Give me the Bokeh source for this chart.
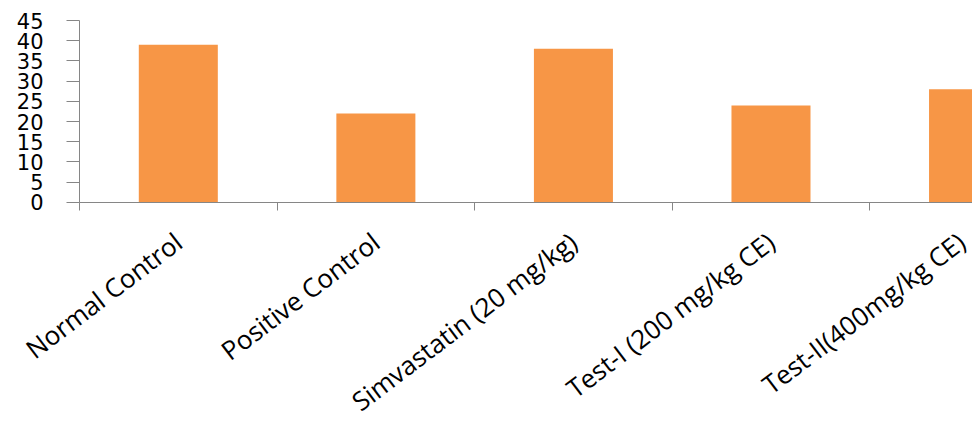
from bokeh.plotting import figure
from bokeh.models import Range1d, FixedTicker, ColumnDataSource
from bokeh.embed import file_html
from bokeh.resources import INLINE

# Treatment groups and their measured values
categories = ["Normal Control", "Positive Control", "Simvastatin (20 mg/kg)",
              "Test-I (200 mg/kg CE)", "Test-II(400mg/kg CE)"]
values = [39, 22, 38, 24, 28]
y_ticks = [0, 5, 10, 15, 20, 25, 30, 35, 40, 45]

# Each group occupies one unit along x; bars sit in the middle of their slot
centers = [i + 0.5 for i in range(len(categories))]
source = ColumnDataSource(data=dict(x=centers, top=values, name=categories))

# The frame fills the whole canvas; both axes are pinned at zero so the tick
# labels and slanted group names sit in the space around the bars.
p = figure(width=972, height=425, output_backend="svg", toolbar_location=None,
           x_range=Range1d(-0.4, 4.52), y_range=Range1d(-55.2, 49.95),
           min_border=0)
p.outline_line_color = None
p.xgrid.grid_line_color = None
p.ygrid.grid_line_color = None

p.vbar(x="x", top="top", width=0.4, source=source,
       fill_color="#F79646", line_color=None)

axis_grey = "#868686"

# Y axis
p.yaxis.fixed_location = 0
p.yaxis.ticker = FixedTicker(ticks=y_ticks)
p.yaxis.bounds = (0, 45)
p.yaxis.axis_line_color = axis_grey
p.yaxis.major_tick_line_color = axis_grey
p.yaxis.major_tick_out = 13
p.yaxis.major_tick_in = 0
p.yaxis.minor_tick_line_color = None
p.yaxis.major_label_standoff = 23
p.yaxis.major_label_text_font = "DejaVu Sans"
p.yaxis.major_label_text_font_size = "21px"
p.yaxis.major_label_text_color = "#000000"

# X axis: tick marks between groups, names centred under each bar
p.xaxis.fixed_location = 0
p.xaxis.bounds = (0, 4.52)
p.xaxis.ticker = FixedTicker(ticks=centers, minor_ticks=list(range(len(categories) + 1)))
p.xaxis.major_label_overrides = {c: n for c, n in zip(centers, categories)}
p.xaxis.axis_line_color = axis_grey
p.xaxis.major_tick_line_color = None
p.xaxis.minor_tick_line_color = axis_grey
p.xaxis.minor_tick_out = 8
p.xaxis.minor_tick_in = 0
p.xaxis.major_label_orientation = 0.65
p.xaxis.major_label_standoff = 28
p.xaxis.major_label_text_font = "Open Sans"
p.xaxis.major_label_text_font_size = "26px"
p.xaxis.major_label_text_color = "#000000"

open("out.html", "w").write(file_html(p, INLINE))
